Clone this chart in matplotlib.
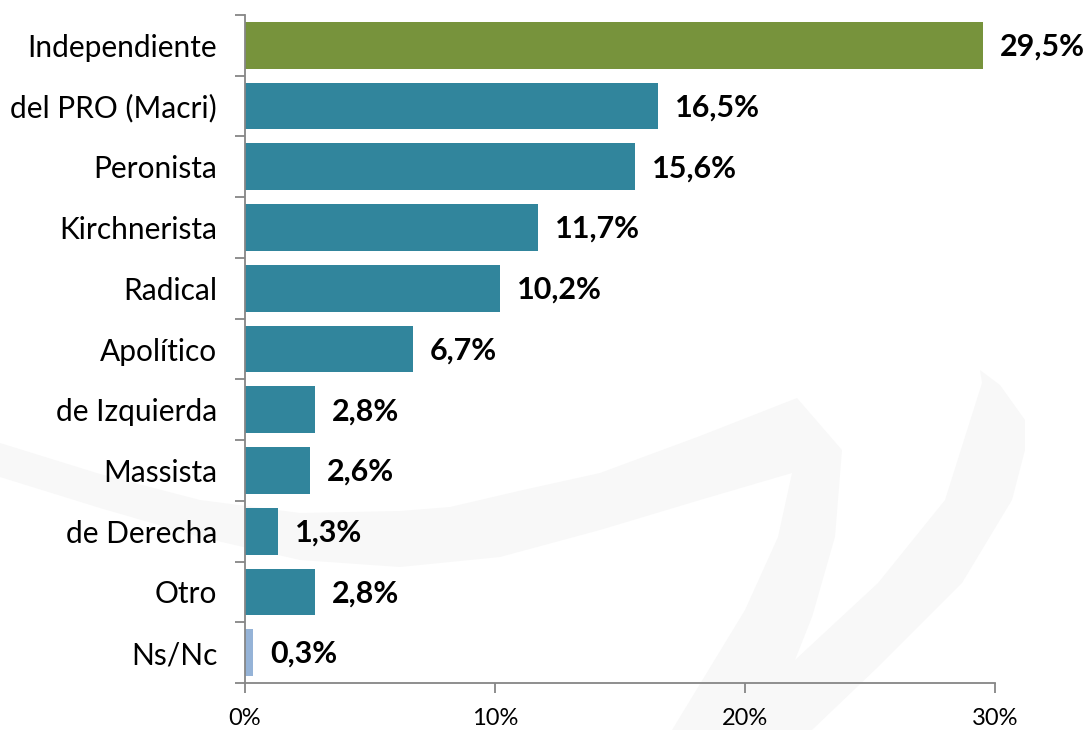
import numpy as np
import matplotlib.pyplot as plt
from matplotlib.patches import Polygon

categories = ['Independiente', 'del PRO (Macri)', 'Peronista', 'Kirchnerista',
              'Radical', 'Apolítico', 'de Izquierda', 'Massista',
              'de Derecha', 'Otro', 'Ns/Nc']
values = [29.5, 16.5, 15.6, 11.7, 10.2, 6.7, 2.8, 2.6, 1.3, 2.8, 0.3]
labels = ['29,5%', '16,5%', '15,6%', '11,7%', '10,2%', '6,7%', '2,8%',
          '2,6%', '1,3%', '2,8%', '0,3%']
colors = ['#77933C'] + ['#31859C'] * 9 + ['#95B3D7']
xticks = [0, 10, 20, 30]
xticklabels = ['0%', '10%', '20%', '30%']

# outline of the faint logo watermark (pixel coords, decoration only)
logo = [(0, 443), (100, 474), (200, 500), (300, 513), (400, 511), (450, 507),
        (523, 490), (600, 473), (700, 436), (797, 398), (842, 450),
        (835, 537), (812, 617), (795, 660),
        (878, 583), (945, 500), (982, 383), (980, 370), (1000, 385),
        (1025, 420), (1025, 450), (1012, 500), (962, 583), (878, 667),
        (812, 730), (672, 730), (745, 610), (778, 537), (792, 473),
        (700, 500), (600, 530), (500, 557), (400, 567), (300, 560),
        (200, 537), (100, 508), (0, 477)]

plt.rcParams['font.family'] = ['Lato', 'DejaVu Sans']

fig = plt.figure(figsize=(10.9, 7.3), dpi=100)

bg = fig.add_axes([0, 0, 1, 1], zorder=0)
bg.set_xlim(0, 1090)
bg.set_ylim(730, 0)
bg.axis('off')
bg.add_patch(Polygon(logo, closed=True, fc='#f8f8f8', ec='none'))

ax = fig.add_axes([245 / 1090, 1 - 683 / 730, 750 / 1090, 668 / 730], zorder=1)
ax.patch.set_alpha(0)

y = np.arange(len(categories))
ax.barh(y, values, height=0.77, color=colors)

for yi, v, lab in zip(y, values, labels):
    ax.annotate(lab, (v, yi), xytext=(12.5, -1), textcoords='offset points',
                ha='left', va='center', fontsize=22, fontweight='bold',
                color='black')

ax.set_ylim(len(categories) - 0.5, -0.5)
ax.set_xlim(0, 30)
ax.set_yticks(y)
ax.set_yticklabels(categories, fontsize=21.5)
ax.tick_params(axis='y', length=0, pad=20)
ax.set_yticks(np.arange(-0.5, len(categories)), minor=True)
ax.tick_params(axis='y', which='minor', length=7, color='#868686', width=1.3)
ax.set_xticks(xticks)
ax.set_xticklabels(xticklabels, fontsize=17)
ax.tick_params(axis='x', length=7, color='#868686', width=1.3, pad=11)

for s in ['top', 'right']:
    ax.spines[s].set_visible(False)
for s in ['left', 'bottom']:
    ax.spines[s].set_color('#868686')
    ax.spines[s].set_linewidth(1.3)

fig.savefig('out.png', dpi=100)
